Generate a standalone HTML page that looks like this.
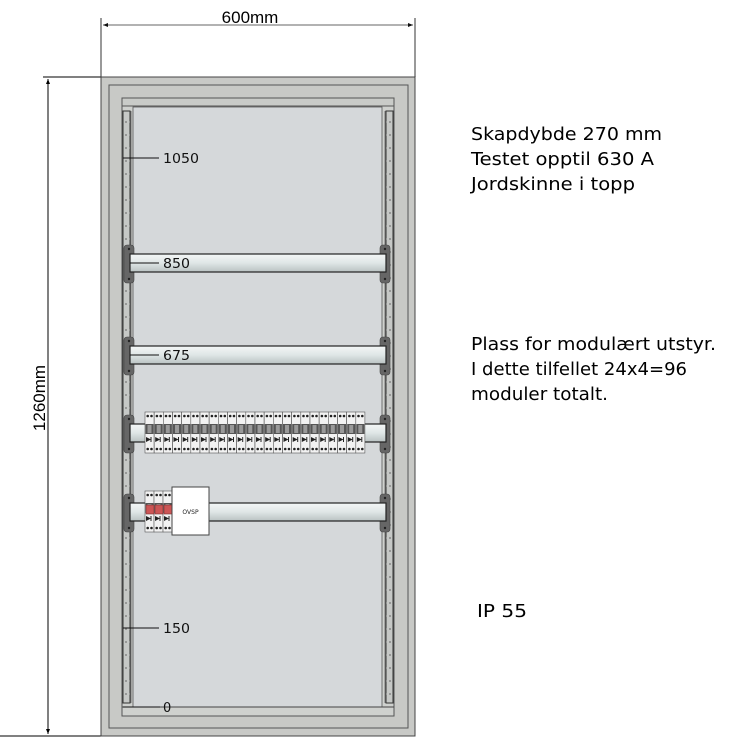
<!DOCTYPE html>
<html><head><meta charset="utf-8"><style>
html,body{margin:0;padding:0;background:#fff;width:750px;height:750px;overflow:hidden}
svg{display:block}
text{font-family:"DejaVu Sans","Liberation Sans",sans-serif}
.lib{font-family:"Liberation Sans",sans-serif}
</style></head><body>
<svg width="750" height="750" viewBox="0 0 750 750" xmlns="http://www.w3.org/2000/svg">
<defs>
<linearGradient id="rail" x1="0" y1="0" x2="0" y2="1">
<stop offset="0" stop-color="#f4f7f7"/><stop offset="0.5" stop-color="#dfe6e6"/><stop offset="1" stop-color="#b9c2c2"/>
</linearGradient>
<pattern id="dots" x="0" y="0" width="4" height="13" patternUnits="userSpaceOnUse">
<circle cx="2" cy="5" r="1" fill="#888"/>
</pattern>
<g id="mod">
<rect x="0" y="0" width="9.1" height="41" fill="#f2f2f2" stroke="#555" stroke-width="0.6"/>
<circle cx="2.7" cy="4" r="1.3" fill="#222"/><circle cx="6.5" cy="4" r="1.3" fill="#222"/>
<rect x="0.5" y="12" width="8.1" height="10" fill="#555"/>
<rect x="2.5" y="13" width="4" height="8" fill="#999"/>
<path d="M1 25 L6 27.5 L1 30 Z" fill="#222"/><line x1="6" y1="25" x2="6" y2="30" stroke="#222"/>
<circle cx="2.7" cy="37" r="1.3" fill="#222"/><circle cx="6.5" cy="37" r="1.3" fill="#222"/>
</g>
<g id="clip">
<rect x="-4" y="0" width="10" height="38" rx="3" fill="#666" stroke="#444" stroke-width="0.6"/>
<circle cx="1" cy="4" r="1.2" fill="#222"/><circle cx="1" cy="34" r="1.2" fill="#222"/>
</g>
</defs>

<line x1="101" y1="18" x2="101" y2="77" stroke="#777" stroke-width="1.5"/>
<line x1="415" y1="18" x2="415" y2="77" stroke="#777" stroke-width="1.5"/>
<line x1="103" y1="25" x2="413" y2="25" stroke="#666" stroke-width="1"/>
<path d="M103 25 l5 -2 v4z M413 25 l-5 -2 v4z" fill="#111"/>
<text class="lib" x="250" y="23" font-size="17" text-anchor="middle" fill="#000">600mm</text>

<line x1="43" y1="77" x2="101" y2="77" stroke="#000" stroke-width="1"/>
<line x1="0" y1="736" x2="101" y2="736" stroke="#000" stroke-width="1"/>
<line x1="48" y1="79" x2="48" y2="734" stroke="#000" stroke-width="1"/>
<path d="M48 79 l-2 5 h4z M48 734 l-2 -5 h4z" fill="#000"/>
<text class="lib" transform="translate(45,398) rotate(-90)" font-size="17" text-anchor="middle" fill="#000">1260mm</text>

<rect x="101" y="77" width="314" height="659" fill="#c8c9c6" stroke="#444" stroke-width="1"/>
<rect x="109" y="85" width="299" height="643" fill="#c8c9c6" stroke="#555" stroke-width="1"/>
<rect x="122" y="98" width="272" height="618" fill="#cfd1ce" stroke="#555" stroke-width="1"/>
<rect x="122" y="98" width="272" height="8" fill="#c9cbc8" stroke="#555" stroke-width="1"/>
<rect x="133" y="107" width="249" height="600" fill="#d5d8da" stroke="#555" stroke-width="0.8"/>
<rect x="123" y="111" width="7" height="592" fill="#c6c8c6" stroke="#333" stroke-width="1"/>
<rect x="123" y="111" width="7" height="592" fill="url(#dots)"/>
<line x1="131" y1="111" x2="131" y2="703" stroke="#777"/>
<rect x="386" y="111" width="7" height="592" fill="#c6c8c6" stroke="#333" stroke-width="1"/>
<rect x="386" y="111" width="7" height="592" fill="url(#dots)"/>
<line x1="385" y1="111" x2="385" y2="703" stroke="#777"/>
<line x1="122" y1="707" x2="394" y2="707" stroke="#444"/>

<use href="#clip" x="128" y="245"/><use href="#clip" x="384" y="245"/>
<use href="#clip" x="128" y="337"/><use href="#clip" x="384" y="337"/>
<use href="#clip" x="128" y="415"/><use href="#clip" x="384" y="415"/>
<use href="#clip" x="128" y="494"/><use href="#clip" x="384" y="494"/>
<g stroke="#222" stroke-width="1.2">
<rect x="130" y="254" width="256" height="18" fill="url(#rail)"/>
<rect x="130" y="346" width="256" height="18" fill="url(#rail)"/>
<rect x="130" y="424" width="256" height="18" fill="url(#rail)"/>
<rect x="130" y="503" width="256" height="18" fill="url(#rail)"/>
</g>

<g>
<use href="#mod" x="145" y="412"/><use href="#mod" x="154.2" y="412"/>
<use href="#mod" x="163.3" y="412"/><use href="#mod" x="172.5" y="412"/>
<use href="#mod" x="181.7" y="412"/><use href="#mod" x="190.8" y="412"/>
<use href="#mod" x="200" y="412"/><use href="#mod" x="209.2" y="412"/>
<use href="#mod" x="218.3" y="412"/><use href="#mod" x="227.5" y="412"/>
<use href="#mod" x="236.7" y="412"/><use href="#mod" x="245.8" y="412"/>
<use href="#mod" x="255" y="412"/><use href="#mod" x="264.2" y="412"/>
<use href="#mod" x="273.3" y="412"/><use href="#mod" x="282.5" y="412"/>
<use href="#mod" x="291.7" y="412"/><use href="#mod" x="300.8" y="412"/>
<use href="#mod" x="310" y="412"/><use href="#mod" x="319.2" y="412"/>
<use href="#mod" x="328.3" y="412"/><use href="#mod" x="337.5" y="412"/>
<use href="#mod" x="346.7" y="412"/><use href="#mod" x="355.8" y="412"/>
</g>
<use href="#mod" x="145" y="491"/><use href="#mod" x="154" y="491"/><use href="#mod" x="163" y="491"/>
<rect x="146" y="505" width="8" height="9" fill="#c55" stroke="#733" stroke-width="0.6"/>
<rect x="155" y="505" width="8" height="9" fill="#c55" stroke="#733" stroke-width="0.6"/>
<rect x="164" y="505" width="8" height="9" fill="#c55" stroke="#733" stroke-width="0.6"/>
<rect x="172" y="487" width="37" height="48" fill="#fff" stroke="#444" stroke-width="1"/>
<text x="190.5" y="514" font-size="6" text-anchor="middle" fill="#222">OVSP</text>

<g stroke="#111" stroke-width="1">
<line x1="123" y1="158" x2="159" y2="158"/>
<line x1="130" y1="263" x2="159" y2="263"/>
<line x1="130" y1="355" x2="159" y2="355"/>
<line x1="123" y1="628" x2="159" y2="628"/>
<line x1="123" y1="707" x2="160" y2="707"/>
</g>
<g font-size="13" fill="#111">
<text x="163" y="163" textLength="36" lengthAdjust="spacingAndGlyphs">1050</text>
<text x="163" y="268" textLength="27" lengthAdjust="spacingAndGlyphs">850</text>
<text x="163" y="360" textLength="27" lengthAdjust="spacingAndGlyphs">675</text>
<text x="163" y="633" textLength="27" lengthAdjust="spacingAndGlyphs">150</text>
<text x="163" y="712">0</text>
</g>

<g font-size="18" fill="#000">
<text x="471" y="140" textLength="191" lengthAdjust="spacingAndGlyphs">Skapdybde 270 mm</text>
<text x="471" y="165" textLength="183" lengthAdjust="spacingAndGlyphs">Testet opptil 630 A</text>
<text x="471" y="190" textLength="164" lengthAdjust="spacingAndGlyphs">Jordskinne i topp</text>
<text x="471" y="350" textLength="245" lengthAdjust="spacingAndGlyphs">Plass for modulært utstyr.</text>
<text x="471" y="375" textLength="216" lengthAdjust="spacingAndGlyphs">I dette tilfellet 24x4=96</text>
<text x="471" y="400" textLength="137" lengthAdjust="spacingAndGlyphs">moduler totalt.</text>
<text x="477" y="617" textLength="50" lengthAdjust="spacingAndGlyphs">IP 55</text>
</g>
</svg>
</body></html>
